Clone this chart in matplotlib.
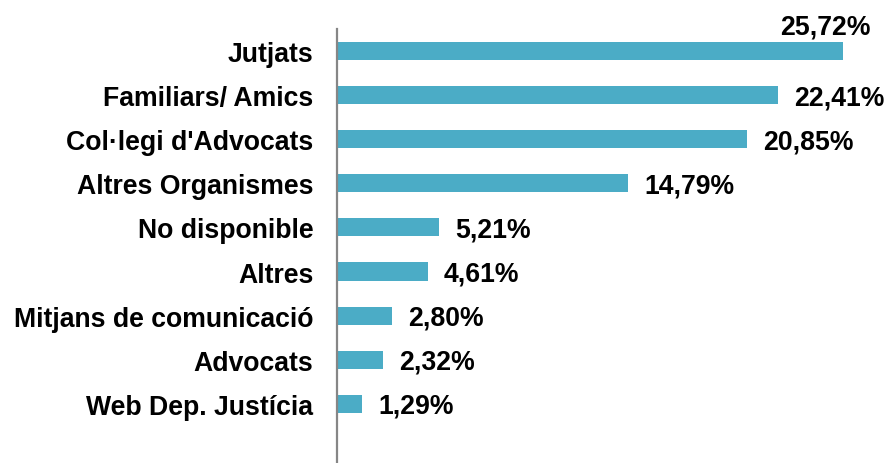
import matplotlib
matplotlib.use("Agg")
import matplotlib.pyplot as plt

categories = ["Jutjats", "Familiars/ Amics", "Col·legi d'Advocats", "Altres Organismes",
              "No disponible", "Altres", "Mitjans de comunicació", "Advocats", "Web Dep. Justícia"]
values = [25.72, 22.41, 20.85, 14.79, 5.21, 4.61, 2.80, 2.32, 1.29]
value_labels = ["25,72%", "22,41%", "20,85%", "14,79%", "5,21%", "4,61%", "2,80%", "2,32%", "1,29%"]

plt.rcParams['font.family'] = ['Liberation Sans', 'DejaVu Sans']

W, H = 886, 464
FS = 19.2
fig = plt.figure(figsize=(W / 100, H / 100), dpi=100)
left_px, top_px = 337, 30
ax = fig.add_axes([left_px / W, 0, (W - left_px) / W, (H - top_px) / H])

n = len(categories)
ypos = list(range(n - 1, -1, -1))
ax.barh(ypos, values, height=0.41, color="#4BACC6", zorder=2)

px_per_unit = 19.67
ax.set_xlim(0, (W - left_px) / px_per_unit)
spacing = 44.1
ax.set_ylim(n - 1 - (H - 52) / spacing, n - 0.5)

ax.set_yticks(ypos)
ax.set_yticklabels(categories, fontsize=FS, fontweight='bold', color='#000000')
ax.tick_params(axis='y', length=0, pad=17)
ax.set_xticks([])
for s in ['top', 'right', 'bottom']:
    ax.spines[s].set_visible(False)
ax.spines['left'].set_color('#868686')
ax.spines['left'].set_linewidth(1.6)
ax.spines['left'].set_zorder(3)

for i, (y, v, lab) in enumerate(zip(ypos, values, value_labels)):
    if i == 0:
        ax.annotate(lab, (v, y), xytext=(-18, 25), textcoords='offset pixels',
                    ha='center', va='center', fontsize=FS, fontweight='bold', color='#000000')
    else:
        ax.annotate(lab, (v, y), xytext=(16, -2), textcoords='offset pixels',
                    ha='left', va='center', fontsize=FS, fontweight='bold', color='#000000')

fig.savefig("out.png", dpi=100)
